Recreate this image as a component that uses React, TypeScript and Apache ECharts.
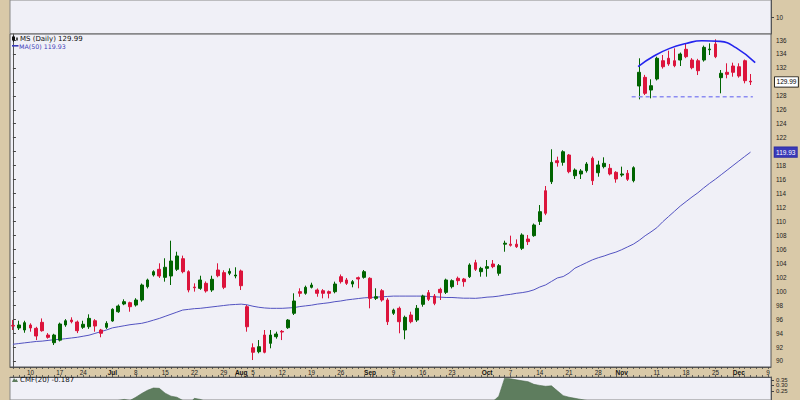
import React, { useEffect, useRef } from "react";
import * as echarts from "echarts";

// ---- data (MS daily, Jun 5 – Dec 4) ----
const dates = [
  "Jun 5","Jun 6","Jun 7","Jun 10","Jun 11","Jun 12","Jun 13","Jun 14","Jun 17","Jun 18","Jun 20","Jun 21","Jun 24","Jun 25","Jun 26","Jun 27","Jun 28",
  "Jul 1","Jul 2","Jul 3","Jul 5","Jul 8","Jul 9","Jul 10","Jul 11","Jul 12","Jul 15","Jul 16","Jul 17","Jul 18","Jul 19","Jul 22","Jul 23","Jul 24","Jul 25","Jul 26","Jul 29","Jul 30","Jul 31",
  "Aug 1","Aug 2","Aug 5","Aug 6","Aug 7","Aug 8","Aug 9","Aug 12","Aug 13","Aug 14","Aug 15","Aug 16","Aug 19","Aug 20","Aug 21","Aug 22","Aug 23","Aug 26","Aug 27","Aug 28","Aug 29","Aug 30",
  "Sep 3","Sep 4","Sep 5","Sep 6","Sep 9","Sep 10","Sep 11","Sep 12","Sep 13","Sep 16","Sep 17","Sep 18","Sep 19","Sep 20","Sep 23","Sep 24","Sep 25","Sep 26","Sep 27","Sep 30",
  "Oct 1","Oct 2","Oct 3","Oct 4","Oct 7","Oct 8","Oct 9","Oct 10","Oct 11","Oct 14","Oct 15","Oct 16","Oct 17","Oct 18","Oct 21","Oct 22","Oct 23","Oct 24","Oct 25","Oct 28","Oct 29","Oct 30","Oct 31",
  "Nov 1","Nov 4","Nov 5","Nov 6","Nov 7","Nov 8","Nov 11","Nov 12","Nov 13","Nov 14","Nov 15","Nov 18","Nov 19","Nov 20","Nov 21","Nov 22","Nov 25","Nov 26","Nov 27","Nov 29",
  "Dec 2","Dec 3","Dec 4",
];
const futureDates = ["Dec 5", "Dec 6", "Dec 9"];

const opens = [
  95.10,94.73,94.44,95.16,94.68,95.54,93.72,92.62,92.99,95.16,95.87,95.59,94.83,94.91,95.77,94.44,94.83,
  95.73,97.06,98.17,98.36,98.02,98.74,100.65,102.32,103.14,101.99,102.18,103.14,104.66,102.80,100.60,100.41,101.13,100.17,103.04,102.66,102.57,102.18,
  102.90,97.78,91.90,91.33,93.72,92.53,93.48,94.25,94.77,96.84,99.94,99.70,100.56,100.17,100.07,99.94,99.93,102.08,101.61,101.03,101.94,101.99,
  101.85,98.98,100.07,98.74,96.84,97.55,94.44,96.59,95.87,98.12,99.79,99.31,100.27,99.84,100.65,101.85,101.75,102.08,104.09,102.80,
  103.28,103.90,102.57,106.74,106.74,106.74,106.15,107.48,107.96,110.00,114.40,115.69,118.70,118.47,119.52,116.55,116.80,117.27,119.05,116.98,117.85,117.61,117.04,
  116.65,116.90,115.84,129.41,130.65,128.83,130.41,133.03,133.38,133.03,133.13,134.67,133.13,133.03,133.13,134.60,135.43,130.60,131.37,132.27,
  132.17,133.03,130.10,
];
const highs = [
  95.87,95.77,95.77,95.40,94.90,96.10,94.00,93.90,95.50,96.00,96.26,95.80,95.77,96.69,96.00,94.60,95.70,
  97.55,98.10,98.84,98.50,99.00,101.10,101.80,103.00,104.00,104.72,107.24,105.66,105.10,103.00,101.13,102.22,101.40,102.22,104.00,103.00,103.28,103.43,
  103.10,98.02,92.53,93.00,94.44,94.44,94.20,94.44,96.00,99.70,100.42,100.80,101.22,100.40,100.30,100.10,101.37,102.40,101.90,101.60,102.10,103.04,
  102.00,100.42,100.30,99.00,97.50,97.80,96.50,97.06,98.02,99.50,100.17,99.60,100.50,101.80,101.70,102.10,101.90,104.00,104.50,103.50,
  104.47,104.47,103.90,107.24,107.96,107.43,108.30,108.06,109.70,112.35,115.08,120.34,119.28,120.20,119.66,117.60,117.50,118.50,119.30,118.70,119.19,118.23,117.20,
  117.85,117.37,117.90,133.38,131.00,130.37,133.61,133.85,134.47,134.81,134.20,135.52,133.40,133.30,135.20,135.52,136.10,131.70,132.66,132.75,
  132.66,133.20,131.13,
];
const lows = [
  94.44,94.44,94.05,94.20,93.00,94.20,93.20,92.29,92.80,94.90,95.40,94.00,94.60,94.60,94.20,93.40,94.60,
  95.63,96.90,98.00,97.06,97.80,98.50,100.40,102.10,101.90,101.37,100.89,102.90,102.57,99.84,99.94,100.20,99.80,99.90,102.00,100.30,102.30,101.85,
  100.17,94.20,90.14,91.10,91.10,91.82,93.20,93.00,94.60,96.59,99.20,99.50,100.40,99.21,98.98,98.98,99.70,101.10,100.90,100.56,100.42,101.80,
  97.55,98.74,98.50,95.16,96.60,93.97,93.11,95.40,95.60,97.78,98.60,98.00,98.74,99.60,100.40,100.89,100.65,101.90,102.90,102.08,
  102.08,103.30,102.22,105.66,106.40,106.20,105.90,106.62,107.80,109.49,110.90,115.36,117.85,117.99,116.90,116.08,116.08,117.00,115.22,116.41,117.60,116.60,115.55,
  116.40,115.80,115.60,127.50,128.12,127.64,130.20,131.90,132.30,132.10,132.27,133.40,131.80,130.98,132.90,133.85,133.40,128.36,130.51,130.74,
  130.60,129.79,129.55,
];
const closes = [
  95.00,95.16,95.49,94.73,93.58,94.34,93.39,93.72,95.30,95.77,95.63,94.34,95.26,96.11,95.01,93.97,95.40,
  97.41,97.88,98.50,97.78,98.74,100.89,101.61,102.80,102.18,103.43,104.33,105.05,102.80,100.17,100.50,101.61,100.03,101.71,102.22,100.56,102.85,102.32,
  100.79,94.91,91.25,92.05,91.25,93.72,93.87,94.15,95.87,98.60,99.70,100.56,100.89,99.70,99.70,99.70,101.03,101.37,101.13,101.37,101.75,102.80,
  98.98,99.21,98.74,95.63,97.31,95.63,96.26,95.63,97.55,99.31,98.84,98.26,99.79,101.61,101.51,101.51,101.37,103.76,103.14,103.28,
  103.52,103.52,103.66,106.88,106.58,106.38,108.06,107.10,109.49,111.40,111.17,118.47,118.42,119.99,117.13,117.37,117.23,118.23,115.84,118.09,118.33,116.80,116.08,
  116.80,116.04,117.70,131.37,128.36,129.45,133.38,132.17,132.56,132.32,133.99,133.61,132.03,131.60,134.95,134.70,133.61,131.23,131.08,131.37,
  130.84,130.17,129.99,
];
const ma50 = [
  92.40,92.50,92.60,92.70,92.80,92.85,92.95,93.05,93.10,93.20,93.30,93.40,93.55,93.70,93.95,94.20,94.45,
  94.75,94.90,95.05,95.20,95.30,95.40,95.60,95.85,96.10,96.40,96.70,97.00,97.30,97.40,97.50,97.55,97.65,97.75,97.85,97.95,98.05,98.10,
  98.15,98.05,97.85,97.70,97.60,97.55,97.55,97.55,97.60,97.65,97.80,97.90,98.00,98.15,98.25,98.35,98.50,98.60,98.75,98.85,98.95,99.05,
  99.10,99.15,99.20,99.25,99.30,99.30,99.30,99.30,99.30,99.30,99.25,99.20,99.15,99.10,99.10,99.05,99.00,99.00,98.98,99.05,
  99.15,99.20,99.30,99.45,99.55,99.70,99.80,99.95,100.20,100.60,100.90,101.40,101.90,102.10,102.60,103.30,103.70,104.10,104.50,104.80,105.05,105.35,105.60,
  105.95,106.35,106.75,107.30,107.95,108.50,109.10,109.95,110.70,111.45,112.20,112.85,113.50,114.10,114.80,115.45,116.05,116.70,117.35,118.00,
  118.65,119.30,119.93,
];
const cmf20 = [
  0.12,0.10,0.11,0.08,0.05,0.06,0.03,0.04,0.09,0.11,0.10,0.08,0.09,0.12,0.10,0.08,0.10,
  0.14,0.16,0.17,0.16,0.19,0.225,0.255,0.276,0.273,0.228,0.20,0.19,0.16,0.12,0.18,0.17,0.15,0.16,0.14,0.13,0.14,0.13,
  0.11,0.05,-0.02,-0.01,-0.05,-0.03,-0.04,-0.05,-0.02,0.03,0.04,0.06,0.07,0.05,0.04,0.03,0.06,0.05,0.04,0.05,0.06,0.08,
  0.04,0.05,0.03,-0.01,0.00,-0.03,0.01,0.00,0.03,0.06,0.05,0.04,0.06,0.09,0.10,0.09,0.08,0.12,0.11,0.13,
  0.14,0.15,0.20,0.368,0.362,0.352,0.343,0.335,0.31,0.30,0.292,0.296,0.25,0.205,0.19,0.18,0.17,0.16,0.12,0.13,0.12,0.10,0.08,
  0.07,0.05,0.06,0.12,0.08,0.07,0.09,0.06,0.03,0.01,0.02,-0.01,-0.04,-0.07,-0.05,-0.06,-0.09,-0.11,-0.13,-0.14,
  -0.16,-0.18,-0.187,
];

const tickDates = ["Jun 10","Jun 17","Jun 24","Jul 1","Jul 8","Jul 15","Jul 22","Jul 29","Aug 1","Aug 5","Aug 12","Aug 19","Aug 26","Sep 3","Sep 9","Sep 16","Sep 23","Oct 1","Oct 7","Oct 14","Oct 21","Oct 28","Nov 1","Nov 11","Nov 18","Nov 25","Dec 2","Dec 9"];
const tickLabels = ["10","17","24","Jul","8","15","22","29","Aug","5","12","19","26","Sep","9","16","23","Oct","7","14","21","28","Nov","11","18","25","Dec","9"];
const monthLabels = ["Jul", "Aug", "Sep", "Oct", "Nov", "Dec"];
const priceTicks = [90,92,94,96,98,100,102,104,106,108,110,112,114,116,118,120,122,124,126,128,130,132,134,136];
// 120 and 130 are hidden behind the value boxes in the reference
const priceTickLabels = [90,92,94,96,98,100,102,104,106,108,110,112,114,116,118,122,124,126,128,132,134,136];
const cmfTicksOuter = [0.25, 0.35];
const cmfTicksMiddle = [0.3];
const upperPanelTicks = [10];

// annotation drawn on the chart: rounded-top arc and support level (x = trading-day index)
const arcPoints = [[106.8,132.2],[109.5,133.7],[112.2,134.8],[115,135.5],[117.7,135.9],[120.8,135.8],[123.5,134.9],[126.8,132.75]];
const supportLevel = 127.88;
const supportFrom = 105.7;
const supportTo = 126.4;

// ---- styling ----
const TAN = "#D9C9A8";
const PANEL = "#F0F0F7";
const UP = "#006400";
const DOWN = "#DC143C";
const MA_COLOR = "#5252C0";
const AXIS_FONT = "Liberation Sans";
const LEG_FONT = "DejaVu Sans";

export default function App() {
  const ref = useRef<HTMLDivElement>(null);

  useEffect(() => {
    if (!ref.current) return;
    const chart = echarts.init(ref.current, undefined, { renderer: "svg" });
    const cats = [...dates, ...futureDates];
    const last = dates.length - 1;
    const nCats = cats.length;

    const axisLabelBase = { fontFamily: AXIS_FONT, fontSize: 6.3, color: "#222", hideOverlap: false };
    const cmfMin = 0.1643;
    const cmfMax = 0.3786;

    const option: any = {
      animation: false,
      backgroundColor: TAN,
      grid: [
        { left: 10, right: 29, top: 0, height: 34, show: true, backgroundColor: PANEL, borderColor: "#888", borderWidth: 1 },
        { left: 10, right: 29, top: 34, height: 333, show: true, backgroundColor: PANEL, borderColor: "#555", borderWidth: 1 },
        { left: 10, right: 29, top: 377, height: 30, show: true, backgroundColor: PANEL, borderColor: "#888", borderWidth: 1 },
      ],
      xAxis: [
        { type: "category", gridIndex: 0, data: cats, show: false },
        {
          type: "category", gridIndex: 1, data: cats, position: "bottom",
          axisLine: { lineStyle: { color: "#555", width: 1 } },
          axisTick: { show: true, interval: 0, length: 2, alignWithLabel: true, lineStyle: { color: "#444", width: 0.8 } },
          axisLabel: {
            fontFamily: AXIS_FONT, fontSize: 6.3, color: "#222", margin: 2, lineHeight: 7,
            interval: (_i: number, v: string) => tickDates.includes(v),
            formatter: (v: string) => {
              const t = tickLabels[tickDates.indexOf(v)] ?? "";
              return monthLabels.includes(t) ? `{m|${t}}` : t;
            },
            rich: { m: { fontFamily: AXIS_FONT, fontSize: 6.5, fontWeight: "bold", color: "#111" } },
          },
          splitLine: { show: false },
        },
        {
          type: "category", gridIndex: 2, data: cats, position: "top",
          axisLine: { lineStyle: { color: "#555", width: 1 } },
          axisTick: { show: true, interval: 0, length: 2, alignWithLabel: true, lineStyle: { color: "#444", width: 0.8 } },
          axisLabel: { show: false },
          splitLine: { show: false },
        },
        { type: "value", gridIndex: 1, min: -0.5, max: nCats - 0.5, show: false },
      ],
      yAxis: [
        {
          type: "value", gridIndex: 0, position: "right", min: 0, max: 20, scale: true,
          axisLine: { show: true, lineStyle: { color: "#555" } },
          axisTick: { show: true, length: 3, customValues: upperPanelTicks, lineStyle: { color: "#444" } },
          axisLabel: { ...axisLabelBase, margin: 5, customValues: upperPanelTicks },
          splitLine: { show: false },
        },
        {
          type: "value", gridIndex: 1, position: "right", min: 89.14, max: 136.86, scale: true,
          axisLine: { show: true, lineStyle: { color: "#555" } },
          axisTick: { show: true, length: 3, customValues: priceTicks, lineStyle: { color: "#444" } },
          axisLabel: { ...axisLabelBase, margin: 5, customValues: priceTickLabels },
          splitLine: { show: false },
        },
        {
          type: "value", gridIndex: 2, position: "right", offset: 0, min: cmfMin, max: cmfMax, scale: true,
          axisLine: { show: true, lineStyle: { color: "#555" } },
          axisTick: { show: true, length: 3, customValues: cmfTicksOuter, lineStyle: { color: "#444" } },
          axisLabel: {
            ...axisLabelBase, fontSize: 6, margin: 5, customValues: cmfTicksOuter,
            formatter: (v: number) => v.toFixed(2),
          },
          splitLine: { show: false },
        },
        {
          type: "value", gridIndex: 2, position: "right", offset: 0, min: cmfMin, max: cmfMax, scale: true,
          axisLine: { show: false },
          axisTick: { show: true, length: 3, customValues: cmfTicksMiddle, lineStyle: { color: "#444" } },
          axisLabel: {
            ...axisLabelBase, fontSize: 6, margin: 5, customValues: cmfTicksMiddle,
            formatter: (v: number) => v.toFixed(2),
          },
          splitLine: { show: false },
        },
      ],
      series: [
        {
          name: "MS",
          type: "candlestick",
          xAxisIndex: 1, yAxisIndex: 1,
          barWidth: 3.2,
          data: dates.map((_, i) => [opens[i], closes[i], lows[i], highs[i]]),
          itemStyle: { color: UP, color0: DOWN, borderColor: UP, borderColor0: DOWN, borderWidth: 1 },
          markPoint: {
            silent: true,
            symbol: "rect",
            symbolSize: 1,
            itemStyle: { color: "transparent" },
            data: [
              {
                coord: [dates[last], closes[last]],
                label: {
                  show: true, position: "right", distance: 24,
                  formatter: closes[last].toFixed(2),
                  fontFamily: AXIS_FONT, fontSize: 6.5, color: "#000",
                  backgroundColor: "#fff", borderColor: "#000", borderWidth: 0.8,
                  padding: [1.5, 1.5, 1, 1.5],
                },
              },
              {
                coord: [dates[last], ma50[last]],
                label: {
                  show: true, position: "right", distance: 23.5,
                  formatter: ma50[last].toFixed(2),
                  fontFamily: AXIS_FONT, fontSize: 6.5, color: "#fff",
                  backgroundColor: "#3A3AB8", borderColor: "#2A2AA0", borderWidth: 0.8,
                  padding: [1.5, 1.5, 1, 1.5],
                },
              },
            ],
          },
          z: 3,
        },
        {
          name: "MA(50)",
          type: "line",
          xAxisIndex: 1, yAxisIndex: 1,
          data: ma50,
          symbol: "none",
          lineStyle: { color: MA_COLOR, width: 1 },
          z: 2,
        },
        {
          name: "arc",
          type: "line",
          xAxisIndex: 3, yAxisIndex: 1,
          data: arcPoints,
          smooth: true,
          symbol: "none",
          lineStyle: { color: "#2424EE", width: 1.6 },
          z: 4,
        },
        {
          name: "support",
          type: "line",
          xAxisIndex: 3, yAxisIndex: 1,
          data: [[supportFrom, supportLevel], [supportTo, supportLevel]],
          symbol: "none",
          lineStyle: { color: "#8C8CF2", width: 1.5, type: [4, 3] },
          z: 4,
        },
        {
          name: "CMF(20)",
          type: "line",
          xAxisIndex: 2, yAxisIndex: 2,
          data: cmf20,
          symbol: "none",
          lineStyle: { color: "#4C6A4C", width: 0.6 },
          areaStyle: { color: "#5E7D5E", opacity: 1, origin: "start" },
          z: 2,
        },
      ],
      graphic: [
        { type: "rect", z: 100, shape: { x: 12, y: 36.5, width: 3, height: 4 }, style: { fill: "#111" } },
        { type: "line", z: 100, shape: { x1: 13.5, y1: 35.5, x2: 13.5, y2: 42 }, style: { stroke: "#111", lineWidth: 0.8 } },
        { type: "rect", z: 100, shape: { x: 16, y: 37.5, width: 2, height: 3 }, style: { fill: "#555" } },
        {
          type: "text", z: 100, x: 20, y: 39,
          style: { text: `MS (Daily) ${closes[last].toFixed(2)}`, fontFamily: LEG_FONT, fontSize: 7, fill: "#111", verticalAlign: "middle" },
        },
        { type: "line", z: 100, shape: { x1: 12, y1: 45.8, x2: 18.5, y2: 45.8 }, style: { stroke: "#3A3AB8", lineWidth: 1.6 } },
        {
          type: "text", z: 100, x: 19, y: 46,
          style: { text: `MA(50) ${ma50[last].toFixed(2)}`, fontFamily: LEG_FONT, fontSize: 6.3, fill: "#3A3AB8", verticalAlign: "middle" },
        },
        { type: "polygon", z: 100, shape: { points: [[12, 382], [14, 378], [15.5, 380], [16.5, 379], [18, 382]] }, style: { fill: "#5E7D5E" } },
        {
          type: "text", z: 100, x: 20, y: 379.5,
          style: { text: `CMF(20) ${cmf20[last].toFixed(3)}`, fontFamily: LEG_FONT, fontSize: 7, fill: "#111", verticalAlign: "middle" },
        },
      ],
    };

    chart.setOption(option);
    return () => chart.dispose();
  }, []);

  return <div ref={ref} style={{ position: "fixed", left: 0, top: 0, width: 800, height: 400 }} />;
}
